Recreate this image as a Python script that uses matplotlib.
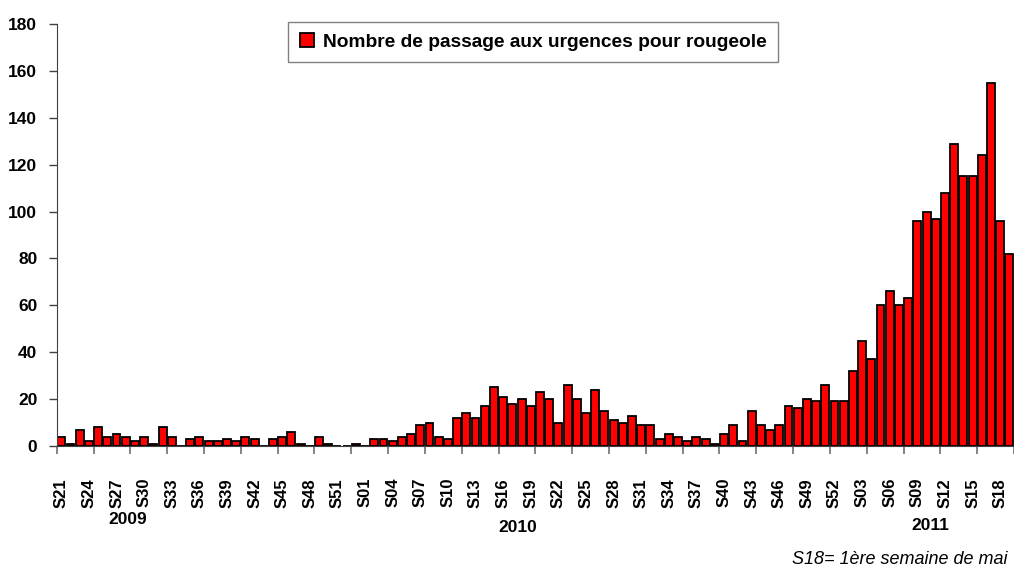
import matplotlib.pyplot as plt
from matplotlib.patches import Patch

# weekly counts
weeks_2009 = list(range(21, 54))
values_2009 = [4, 1, 7, 2, 8, 4, 5, 4, 2, 4, 1, 8, 4, 0, 3, 4, 2, 2, 3, 2, 4, 3,
               0, 3, 4, 6, 1, 0, 4, 1, 0, 0, 1]
weeks_2010 = list(range(1, 53))
values_2010 = [0, 3, 3, 2, 4, 5, 9, 10, 4, 3, 12, 14, 12, 17, 25, 21, 18, 20, 17,
               23, 20, 10, 26, 20, 14, 24, 15, 11, 10, 13, 9, 9, 3, 5, 4, 2, 4, 3,
               1, 5, 9, 2, 15, 9, 7, 9, 17, 16, 20, 19, 26, 19]
weeks_2011 = list(range(1, 20))
values_2011 = [19, 32, 45, 37, 60, 66, 60, 63, 96, 100, 97, 108, 129, 115, 115,
               124, 155, 96, 82]

years = ["2009", "2010", "2011"]
legend_label = "Nombre de passage aux urgences pour rougeole"
note = "S18= 1ère semaine de mai"

weeks = weeks_2009 + weeks_2010 + weeks_2011
values = values_2009 + values_2010 + values_2011
labels = ["S%02d" % w for w in weeks]

font = ["Liberation Sans", "DejaVu Sans"]

fig = plt.figure(figsize=(10.14, 5.70), dpi=100)
ax = fig.add_axes([56.7 / 1014, 1 - 446 / 570, 1 - 56.7 / 1014, (446 - 24) / 570])

x = list(range(len(values)))
ax.bar(x, values, width=0.86, color="#ff0000", edgecolor="black", linewidth=1.3)

ax.set_xlim(-0.47, 103.25)
ax.set_ylim(0, 180)
ax.set_yticks(range(0, 181, 20))
ax.set_yticklabels([str(v) for v in range(0, 181, 20)],
                   family=font, fontweight="bold", fontsize=12.5)

# labels every 3 weeks, tick marks every 4 weeks
label_pos = x[::3]
ax.set_xticks(label_pos)
ax.set_xticklabels(labels[::3], rotation=90, family=font,
                   fontweight="bold", fontsize=12)
ax.set_xticks([p - 0.5 for p in range(0, len(values) + 1, 4)], minor=True)
ax.tick_params(axis="x", which="major", length=0, pad=23)
ax.tick_params(axis="x", which="minor", length=6, width=1.2, color="#707070",
               direction="out")
ax.tick_params(axis="y", length=6, width=1, color="#404040", pad=8)

for side in ["top", "right"]:
    ax.spines[side].set_visible(False)
ax.spines["left"].set_color("#404040")
ax.spines["bottom"].set_color("#404040")

# year labels under the week labels
fig.text(128 / 1014, 1 - 520 / 570, years[0], ha="center", va="center",
         family=font, fontweight="bold", fontsize=12.5)
fig.text(518 / 1014, 1 - 527 / 570, years[1], ha="center", va="center",
         family=font, fontweight="bold", fontsize=12.5)
fig.text(930 / 1014, 1 - 526 / 570, years[2], ha="center", va="center",
         family=font, fontweight="bold", fontsize=12.5)
fig.text(1008 / 1014, 1 - 559 / 570, note, ha="right", va="center",
         family=font, style="italic", fontsize=13)

handle = Patch(facecolor="#ff0000", edgecolor="black", linewidth=1.3)
leg = fig.legend([handle], [legend_label], loc="center",
                 bbox_to_anchor=(533 / 1014, 1 - 42 / 570),
                 prop={"family": "Liberation Sans", "weight": "bold", "size": 13.8},
                 handlelength=0.75, handleheight=0.75, handletextpad=0.45,
                 fancybox=False, edgecolor="#808080", framealpha=1,
                 borderpad=0.6)
leg.get_frame().set_linewidth(1.0)

fig.savefig("out.png", dpi=100)
